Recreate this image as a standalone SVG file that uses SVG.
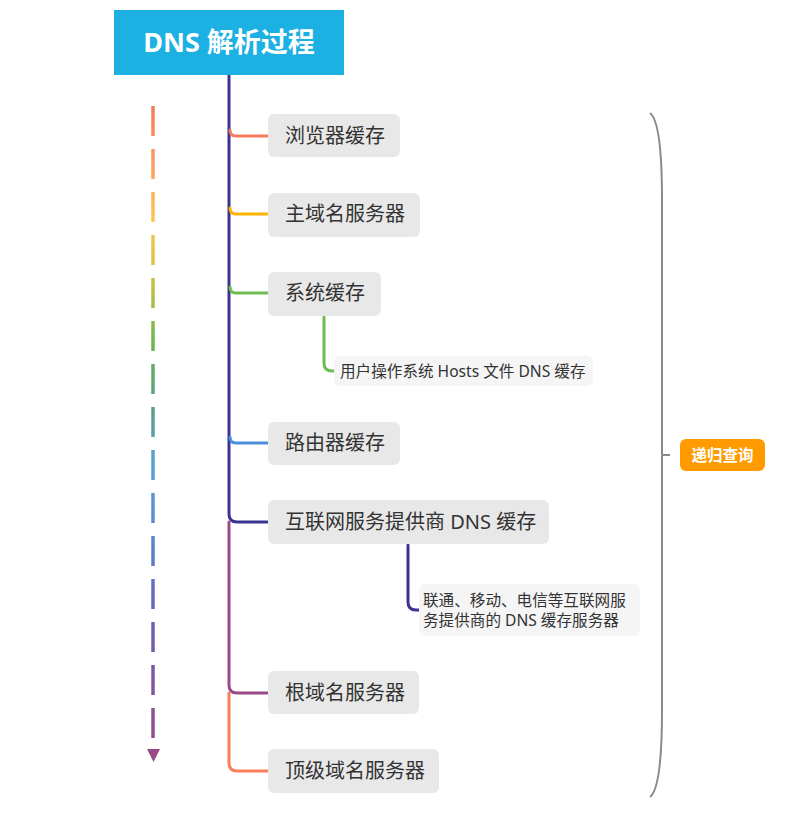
<svg xmlns="http://www.w3.org/2000/svg" width="809" height="824" viewBox="0 0 809 824">
<defs>
<style>
.node rect{fill:#e8e8e8}
.sub rect{fill:#f5f5f5}
.t{font-family:"Noto Sans","Noto Sans CJK SC",sans-serif;font-size:20px;fill:#333}
.s{font-family:"Noto Sans","Noto Sans CJK SC",sans-serif;font-size:15.6px;fill:#333}
.c{fill:none;stroke-width:3;stroke-linecap:round}
</style>
<linearGradient id="g" gradientUnits="userSpaceOnUse" x1="0" y1="105" x2="0" y2="760">
<stop offset="0" stop-color="#f47c5c"/>
<stop offset="0.1" stop-color="#ffa062"/>
<stop offset="0.18" stop-color="#ffc650"/>
<stop offset="0.27" stop-color="#c8c046"/>
<stop offset="0.36" stop-color="#6cb84c"/>
<stop offset="0.46" stop-color="#5a9e88"/>
<stop offset="0.55" stop-color="#5aa2d4"/>
<stop offset="0.66" stop-color="#5a86d2"/>
<stop offset="0.78" stop-color="#6a62b4"/>
<stop offset="1" stop-color="#9c4a87"/>
</linearGradient>
</defs>
<rect width="809" height="824" fill="#fff"/>

<g id="progress">
<line x1="153" y1="106" x2="153" y2="738" stroke="url(#g)" stroke-width="3.5" stroke-dasharray="30 13"/>
<path d="M147,749 L160,749 L153.5,762 Z" fill="#9c4a87"/>
</g>

<g id="connectors">
<path class="c" stroke="#3a3391" stroke-width="3.5" d="M229,75 V514 Q229,522 237,522 H268"/>
<path class="c" stroke="#9c4a87" stroke-width="3.5" d="M229,522 V685 Q229,693 237,693 H268"/>
<path class="c" stroke="#f77f5a" stroke-width="3.5" d="M229,693 V763 Q229,771 237,771 H268"/>
<path class="c" stroke="#f47c5c" d="M230,130 Q230,136 236,136 H268"/>
<path class="c" stroke="#ffb400" d="M230,208 Q230,214 236,214 H268"/>
<path class="c" stroke="#6cbd4e" d="M230,287 Q230,293 236,293 H268"/>
<path class="c" stroke="#4a8fd8" d="M230,437 Q230,443 236,443 H268"/>
<path class="c" stroke="#6cbd4e" d="M324,317 V363 Q324,371 332,371 H334"/>
<path class="c" stroke="#3a3391" d="M408,545 V602 Q408,610 416,610 H419"/>
<path fill="none" stroke="#8a8a8a" stroke-width="2" d="M650,113 Q662,122 662,200 L662,710 Q662,788 650,797"/>
<line x1="662" y1="455" x2="670" y2="455" stroke="#8a8a8a" stroke-width="2"/>
</g>

<g id="title">
<rect x="114" y="10" width="230" height="65" fill="#1cb0e3"/>
<text x="229" y="52" text-anchor="middle" font-family="'Noto Sans','Noto Sans CJK SC',sans-serif" font-size="27" font-weight="bold" fill="#fff">DNS 解析过程</text>
</g>

<g id="n1" class="node"><rect x="268" y="114" width="132" height="43" rx="6"/><text class="t" x="285" y="143">浏览器缓存</text></g>
<g id="n2" class="node"><rect x="268" y="193" width="152" height="44" rx="6"/><text class="t" x="285" y="221">主域名服务器</text></g>
<g id="n3" class="node"><rect x="268" y="272" width="113" height="44" rx="6"/><text class="t" x="285" y="300">系统缓存</text></g>
<g id="n3a" class="sub"><rect x="334" y="356" width="259" height="30" rx="6"/><text class="s" x="340" y="377">用户操作系统 Hosts 文件 DNS 缓存</text></g>
<g id="n4" class="node"><rect x="268" y="422" width="132" height="43" rx="6"/><text class="t" x="285" y="450">路由器缓存</text></g>
<g id="n5" class="node"><rect x="268" y="500" width="281" height="44" rx="6"/><text class="t" x="285" y="529">互联网服务提供商 DNS 缓存</text></g>
<g id="n5a" class="sub"><rect x="419" y="584" width="221" height="52" rx="6"/><text class="s" x="423" y="606">联通、移动、电信等互联网服</text><text class="s" x="423" y="626">务提供商的 DNS 缓存服务器</text></g>
<g id="n6" class="node"><rect x="268" y="671" width="151" height="43" rx="6"/><text class="t" x="285" y="700">根域名服务器</text></g>
<g id="n7" class="node"><rect x="268" y="749" width="171" height="44" rx="6"/><text class="t" x="285" y="778">顶级域名服务器</text></g>

<g id="recursive">
<rect x="680" y="439" width="85" height="32" rx="6" fill="#ff9b00"/>
<text x="722.5" y="461" text-anchor="middle" font-family="'Noto Sans','Noto Sans CJK SC',sans-serif" font-size="15.5" font-weight="bold" fill="#fff">递归查询</text>
</g>
</svg>
